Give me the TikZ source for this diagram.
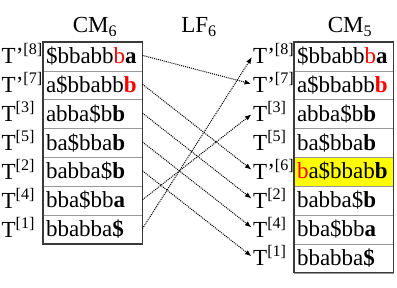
\documentclass[tikz,border=0pt]{standalone}
\usepackage{fontspec}
\setmainfont{Liberation Serif}
\usetikzlibrary{arrows.meta}
\definecolor{redch}{HTML}{FF0000}
\definecolor{yel}{HTML}{FFFF00}
\definecolor{frame}{HTML}{3A3A3A}
\newcommand{\rb}[1]{\textcolor{redch}{#1}}
\newcommand{\bl}[1]{\textbf{#1}}
\begin{document}
\begin{tikzpicture}[x=1pt,y=-1pt,
  every node/.style={font=\fontsize{23}{27}\selectfont},
  cell/.style={draw=gray!80, line width=0.6pt, anchor=north west, minimum height=28.86pt,
    text width=93.5pt, inner xsep=3pt, inner ysep=0pt, outer sep=0pt, align=left,
    text height=17pt, text depth=3pt},
  lab/.style={anchor=base west, inner sep=0pt},
  ttl/.style={anchor=base, inner sep=0pt},
  outer/.style={draw=frame, line width=1.2pt},
  arr/.style={line width=1pt, dash pattern=on 1pt off 1pt, shorten >=2pt,
    -{Latex[length=6.5pt,width=5pt]}}]
\useasboundingbox (0,0) rectangle (397,288);
% titles
\node[ttl] (t1) at (95,33) {CM\textsubscript{6}};
\node[ttl] (t2) at (199,33) {LF\textsubscript{6}};
\node[ttl] (t3) at (350,33) {CM\textsubscript{5}};
% left column
\node[cell] (L0) at (43,42) {\$bbabb\rb{b}\bl{a}};
\node[cell] (L1) at (L0.south west) {a\$bbabb\textcolor{redch}{\bl{b}}};
\node[cell] (L2) at (L1.south west) {abba\$b\bl{b}};
\node[cell] (L3) at (L2.south west) {ba\$bba\bl{b}};
\node[cell] (L4) at (L3.south west) {babba\$\bl{b}};
\node[cell] (L5) at (L4.south west) {bba\$bb\bl{a}};
\node[cell] (L6) at (L5.south west) {bbabba\bl{\$}};
\draw[outer] (L0.north west) rectangle (L6.south east);
% right column
\node[cell] (R0) at (294,42) {\$bbabb\rb{b}\bl{a}};
\node[cell] (R1) at (R0.south west) {a\$bbabb\textcolor{redch}{\bl{b}}};
\node[cell] (R2) at (R1.south west) {abba\$b\bl{b}};
\node[cell] (R3) at (R2.south west) {ba\$bba\bl{b}};
\node[cell, fill=yel] (R4) at (R3.south west) {\rb{b}a\$bbab\bl{b}};
\node[cell] (R5) at (R4.south west) {babba\$\bl{b}};
\node[cell] (R6) at (R5.south west) {bba\$bb\bl{a}};
\node[cell] (R7) at (R6.south west) {bbabba\bl{\$}};
\draw[outer] (R0.north west) rectangle (R7.south east);
% left labels
\node[lab] (LL0) at ([yshift=-7.5pt]L0.west -| 1.5,0) {T’\textsuperscript{[8]}};
\node[lab] (LL1) at ([yshift=-7.5pt]L1.west -| 1.5,0) {T’\textsuperscript{[7]}};
\node[lab] (LL2) at ([yshift=-7.5pt]L2.west -| 1.5,0) {T\textsuperscript{[3]}};
\node[lab] (LL3) at ([yshift=-7.5pt]L3.west -| 1.5,0) {T\textsuperscript{[5]}};
\node[lab] (LL4) at ([yshift=-7.5pt]L4.west -| 1.5,0) {T\textsuperscript{[2]}};
\node[lab] (LL5) at ([yshift=-7.5pt]L5.west -| 1.5,0) {T\textsuperscript{[4]}};
\node[lab] (LL6) at ([yshift=-7.5pt]L6.west -| 1.5,0) {T\textsuperscript{[1]}};
% right labels
\node[lab] (RL0) at ([yshift=-7.5pt]R0.west -| 253,0) {T’\textsuperscript{[8]}};
\node[lab] (RL1) at ([yshift=-7.5pt]R1.west -| 253,0) {T’\textsuperscript{[7]}};
\node[lab] (RL2) at ([yshift=-7.5pt]R2.west -| 253,0) {T\textsuperscript{[3]}};
\node[lab] (RL3) at ([yshift=-7.5pt]R3.west -| 253,0) {T\textsuperscript{[5]}};
\node[lab] (RL4) at ([yshift=-7.5pt]R4.west -| 253,0) {T’\textsuperscript{[6]}};
\node[lab] (RL5) at ([yshift=-7.5pt]R5.west -| 253,0) {T\textsuperscript{[2]}};
\node[lab] (RL6) at ([yshift=-7.5pt]R6.west -| 253,0) {T\textsuperscript{[4]}};
\node[lab] (RL7) at ([yshift=-7.5pt]R7.west -| 253,0) {T\textsuperscript{[1]}};
% LF arrows
\draw[arr] ([yshift=1pt]L0.east) -- ([yshift=1pt]RL1.west |- R1.west);
\draw[arr] ([yshift=1pt]L1.east) -- ([yshift=1pt]RL4.west |- R4.west);
\draw[arr] ([yshift=1pt]L2.east) -- ([yshift=1pt]RL5.west |- R5.west);
\draw[arr] ([yshift=1pt]L3.east) -- ([yshift=1pt]RL6.west |- R6.west);
\draw[arr] ([yshift=1pt]L4.east) -- ([yshift=1pt]RL7.west |- R7.west);
\draw[arr] ([yshift=1pt]L5.east) -- ([yshift=1pt]RL2.west |- R2.west);
\draw[arr] ([yshift=1pt]L6.east) -- ([yshift=1pt]RL0.west |- R0.west);
\end{tikzpicture}
\end{document}
